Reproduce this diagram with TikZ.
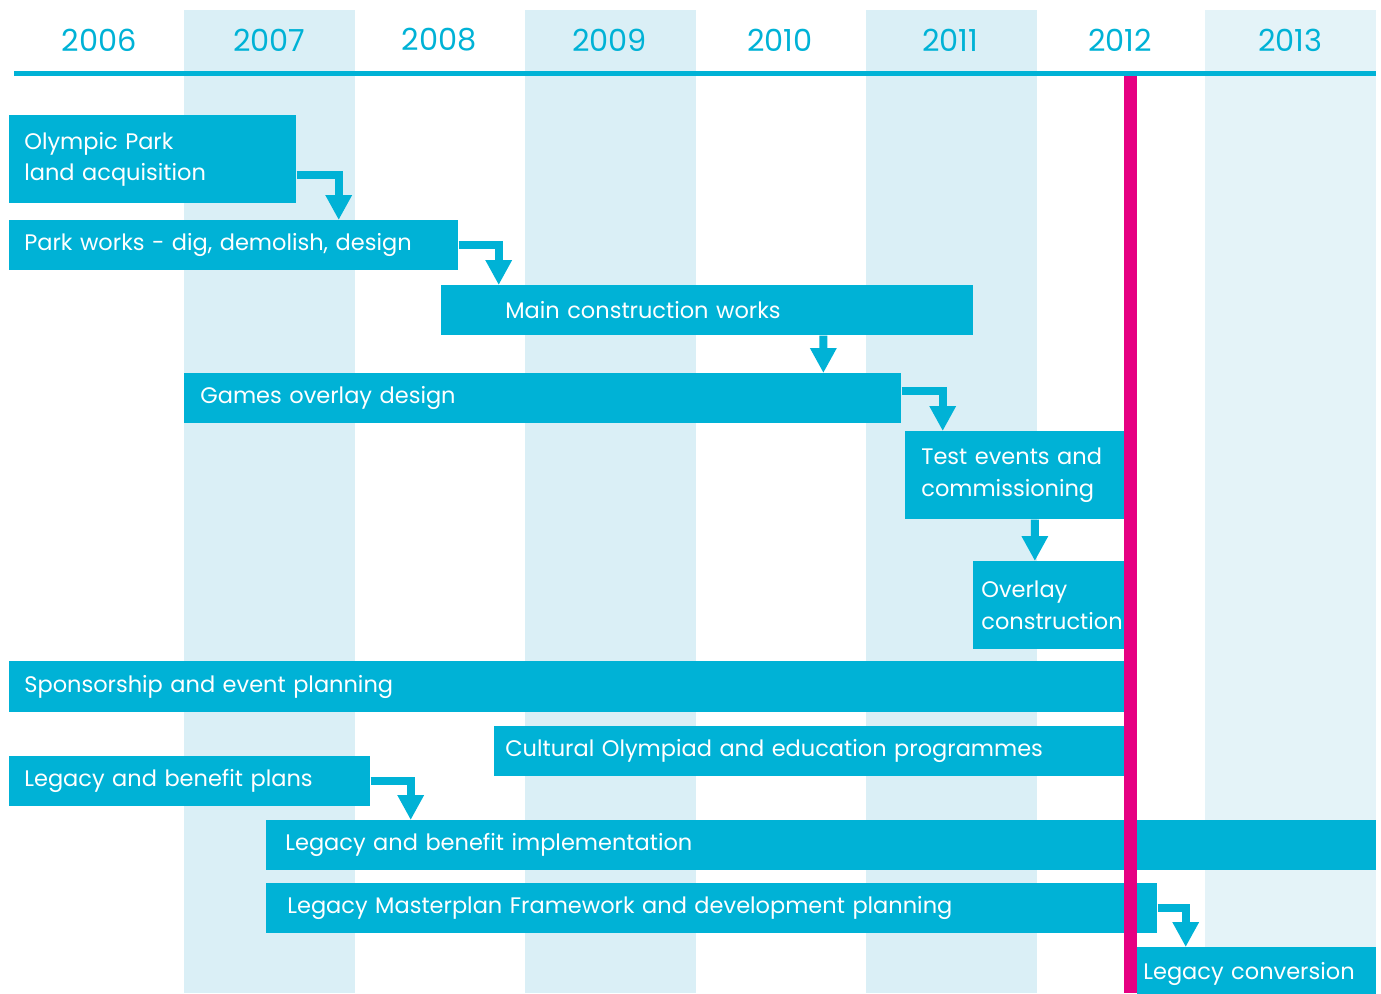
\documentclass[tikz,border=0pt]{standalone}
\usepackage{fontspec}
\setmainfont{Poppins}
\usetikzlibrary{positioning,arrows.meta,calc}
\newdimen\px
\px=0.02cm
\definecolor{barblue}{RGB}{0,178,214}
\definecolor{stripeblue}{RGB}{218,239,246}
\definecolor{stripelight}{RGB}{228,243,248}
\definecolor{olympink}{RGB}{230,0,130}
\tikzset{
	task/.style={fill=barblue, text=white, anchor=north west, align=left,
		inner ysep=0pt, font=\fontsize{12.8}{18}\selectfont},
	flow/.style={draw=barblue, line width=0.16cm,
		-{Triangle[width=0.5cm,length=0.5cm]}},
	year/.style={text=barblue, font=\fontsize{17.3}{20}\selectfont},
}

\begin{document}
\begin{tikzpicture}[x=0.02cm, y=-0.02cm]
\useasboundingbox (0,0) rectangle (1381,993);

% Year columns
\foreach \col in {0,1,2}
	\fill[stripeblue] (184+341*\col,10) rectangle ++(171,983);
\fill[stripelight] (1205,10) rectangle (1376,993);

\foreach \yr [count=\i from 0] in {2006,...,2013}
	\node[year] (y\yr) at (99+170.2*\i,40) {\yr};

\draw[barblue, line width=0.1cm] (14,74) -- (1376,74);

% Olympic Park
\node [task,
	minimum width=287\px,
	minimum height=88\px,
	inner xsep=15\px,
	text width=257\px,
] (land) at (9,115) {Olympic Park\\land acquisition};

\node [task,
	minimum width=449\px,
	minimum height=50\px,
	inner xsep=15\px,
	text width=419\px,
] (works) at (9,220) {Park works - dig, demolish, design};

\node [task,
	minimum width=532\px,
	minimum height=50\px,
	inner xsep=64\px,
	text width=404\px,
] (main) at (441,285) {Main construction works};

% Games overlay
\node [task,
	minimum width=717\px,
	minimum height=50\px,
	inner xsep=16\px,
	text width=685\px,
] (games) at (184,373) {Games overlay design};

\node [task,
	minimum width=219\px,
	minimum height=88\px,
	inner xsep=16\px,
	text width=187\px,
] (tests) at (905,431) {Test events and\\commissioning};

\node [task,
	minimum width=151\px,
	minimum height=88\px,
	inner xsep=8\px,
	text width=135\px,
] (overlay) at (973,561) {Overlay\\construction};

% Programmes
\node [task,
	minimum width=1115\px,
	minimum height=51\px,
	inner xsep=15\px,
	text width=1085\px,
] (sponsor) at (9,661) {Sponsorship and event planning};

\node [task,
	minimum width=630\px,
	minimum height=50\px,
	inner xsep=11\px,
	text width=608\px,
] (cultural) at (494,726) {Cultural Olympiad and education programmes};

% Legacy
\node [task,
	minimum width=361\px,
	minimum height=50\px,
	inner xsep=15\px,
	text width=331\px,
] (plans) at (9,756) {Legacy and benefit plans};

\node [task,
	minimum width=1110\px,
	minimum height=50\px,
	inner xsep=19\px,
	text width=1072\px,
] (impl) at (266,820) {Legacy and benefit implementation};

\node [task,
	minimum width=891\px,
	minimum height=50\px,
	inner xsep=21\px,
	text width=849\px,
] (master) at (266,883) {Legacy Masterplan Framework and development planning};

\node [task,
	minimum width=239\px,
	minimum height=54\px,
	inner xsep=6\px,
	text width=227\px,
] (conversion) at (1137,947) {Legacy conversion};

% Arrows
\draw[flow] ([yshift=-0.32cm]land.east) -| ($(land.east |- works.north)+(42,0)$);
\draw[flow] (works.east) -| ($(works.east |- main.north)+(40,0)$);
\draw[flow] ([xshift=2.32cm]main.south) -- ($(main.south |- games.north)+(116,0)$);
\draw[flow] ([yshift=0.14cm]games.east) -| ($(games.east |- tests.north)+(41,0)$);
\draw[flow] ([xshift=0.4cm]tests.south) -- ($(tests.south |- overlay.north)+(20,0)$);
\draw[flow] (plans.east) -| ($(plans.east |- impl.north)+(40,0)$);
\draw[flow] (master.east) -| ($(master.east |- conversion.north)+(28,0)$);

% 2012 Games
\draw[olympink, line width=0.26cm] (1130.5,76) -- (1130.5,993);

\end{tikzpicture}
\end{document}
